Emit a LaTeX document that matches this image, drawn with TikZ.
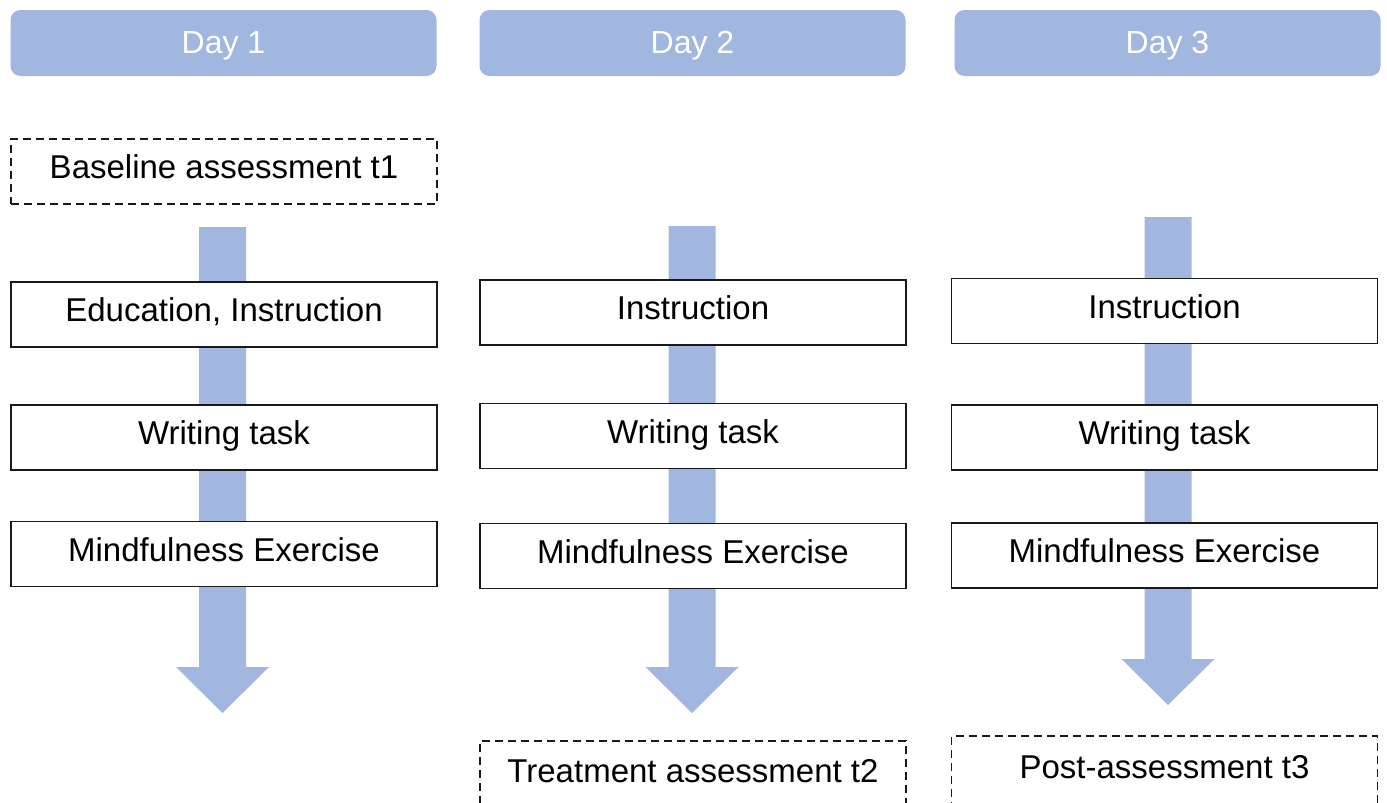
\documentclass[tikz,border=0pt]{standalone}
\usepackage{fontspec}
\setmainfont{Liberation Sans}
\usetikzlibrary{calc}
\definecolor{daybl}{RGB}{161,183,224}
\definecolor{boxln}{RGB}{25,25,25}
\tikzset{
  dayhead/.style={fill=daybl, draw=none, rounded corners=10pt, minimum width=426pt, minimum height=66pt,
    inner sep=0pt, text=white, text height=22pt, text depth=2pt, font=\fontsize{32}{37}\selectfont},
  stagebox/.style={draw=boxln, line width=1.6pt, fill=white, minimum width=426pt, minimum height=65pt,
    inner sep=0pt, text height=23pt, text depth=9pt, font=\fontsize{33}{39}\selectfont},
  assessbox/.style={stagebox, dash pattern=on 8pt off 5pt},
  flow/.style={fill=daybl}
}
\newcommand\flowarr[2]{%
  \fill[flow] ($(#1)+(-23.5,0)$) -- ($(#1)+(23.5,0)$) -- ($(#2)+(23.5,-46)$) -- ($(#2)+(46.5,-46)$)
   -- (#2) -- ($(#2)+(-46.5,-46)$) -- ($(#2)+(-23.5,-46)$) -- cycle;}
\begin{document}
\begin{tikzpicture}[x=1pt,y=-1pt]
\useasboundingbox (0,0) rectangle (1387,803);
\begin{scope}
\clip (0,0) rectangle (1387,803);
% arrow end points
\coordinate (s1) at (222.5,227);
\coordinate (t1) at (222.5,713);
\coordinate (s2) at (692,226);
\coordinate (t2) at (692,713);
\coordinate (s3) at (1168,217);
\coordinate (t3) at (1168,705);
\flowarr{s1}{t1}
\flowarr{s2}{t2}
\flowarr{s3}{t3}
% headers
\node[dayhead] (d1) at (223.5,43) {Day 1};
\node[dayhead] (d2) at (692.5,43) {Day 2};
\node[dayhead] (d3) at (1167.5,43) {Day 3};
% column 1
\node[assessbox] (base1) at (224,171.5) {Baseline assessment t1};
\node[stagebox] (edu1) at (224,314.5) {Education, Instruction};
\node[stagebox] (wr1) at (224,437.5) {Writing task};
\node[stagebox] (mf1) at (224,554) {Mindfulness Exercise};
% column 2
\node[stagebox] (ins2) at (693,312.5) {Instruction};
\node[stagebox] (wr2) at (693,436) {Writing task};
\node[stagebox] (mf2) at (693,556) {Mindfulness Exercise};
\node[assessbox, minimum height=68pt] (tr2) at (693,775) {Treatment assessment t2};
% column 3
\node[stagebox] (ins3) at (1164.5,311) {Instruction};
\node[stagebox] (wr3) at (1164.5,437.5) {Writing task};
\node[stagebox] (mf3) at (1164.5,555.5) {Mindfulness Exercise};
\node[assessbox, minimum height=70pt] (po3) at (1164.5,771) {Post-assessment t3};
\end{scope}
\end{tikzpicture}
\end{document}
